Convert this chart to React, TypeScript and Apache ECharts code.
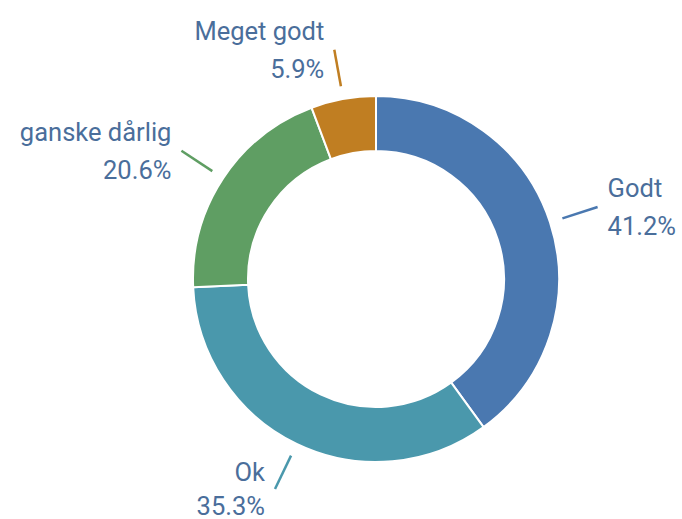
import React, { useEffect, useRef } from "react";
import * as echarts from "echarts";

const categories = ["Godt", "Ok", "ganske dårlig", "Meget godt"];
const values = [41.2, 35.3, 20.6, 5.9];
const colors = ["#4a78b0", "#4a98ac", "#5f9e63", "#c07e22"];
const textColor = "#4a6e9b";

export default function App() {
  const ref = useRef<HTMLDivElement>(null);
  useEffect(() => {
    if (!ref.current) return;
    const chart = echarts.init(ref.current, undefined, { renderer: "svg" });
    const center = [376, 279];
    chart.setOption({
      animation: false,
      backgroundColor: "#ffffff",
      series: [
        {
          type: "pie",
          center,
          radius: [128, 183],
          startAngle: 90,
          clockwise: true,
          avoidLabelOverlap: false,
          silent: true,
          itemStyle: { borderColor: "#ffffff", borderWidth: 2 },
          label: { show: false },
          labelLine: { show: false },
          data: categories.map((name, i) => ({
            name,
            value: values[i],
            itemStyle: { color: colors[i] },
          })),
        },
        {
          type: "pie",
          center,
          radius: [0, 196],
          startAngle: 90,
          clockwise: true,
          avoidLabelOverlap: false,
          silent: true,
          z: 1,
          itemStyle: { color: "rgba(0,0,0,0)" },
          label: {
            show: true,
            position: "outside",
            formatter: "{b}\n{c}%",
            color: textColor,
            fontFamily: "Roboto",
            fontSize: 25.5,
            lineHeight: 38,
            distanceToLabelLine: 10,
          },
          labelLine: {
            show: true,
            length: 37,
            length2: 0,
            lineStyle: { width: 2.5 },
          },
          data: categories.map((name, i) => ({
            name,
            value: values[i],
            labelLine: { lineStyle: { color: colors[i], width: 2.5 } },
            label:
              i === 1
                ? { lineHeight: 34, padding: [0, 0, 16, 0] }
                : undefined,
          })),
        },
      ],
    });
    return () => chart.dispose();
  }, []);
  return (
    <div
      ref={ref}
      style={{ position: "fixed", left: 0, top: 0, width: 682, height: 519 }}
    />
  );
}
